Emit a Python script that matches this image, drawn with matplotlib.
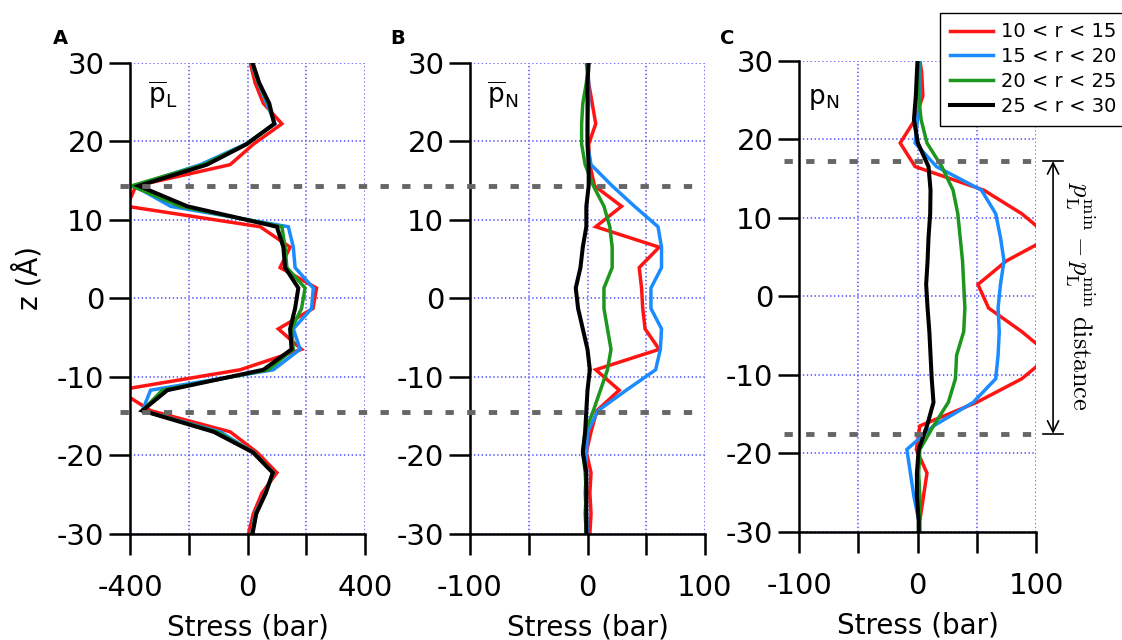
import numpy as np
import matplotlib.pyplot as plt
from matplotlib.lines import Line2D
from matplotlib.transforms import blended_transform_factory

plt.rcParams['font.family'] = 'DejaVu Sans'
plt.rcParams['axes.unicode_minus'] = False
plt.rcParams['mathtext.fontset'] = 'dejavusans'
plt.rcParams['lines.scale_dashes'] = False

# z positions (Angstrom) of the profiles in panels A and B
z_ab = [30.0, 27.4, 24.8, 22.2, 19.6, 17.0, 14.3, 11.7, 9.1, 6.5, 3.9, 1.3,
        -1.3, -3.9, -6.5, -9.1, -11.7, -14.3, -17.0, -19.6, -22.2, -24.8, -27.4, -30.0]
# z positions of the profiles in panel C
z_c = [30.0, 28.5, 25.5, 22.5, 19.5, 16.5, 13.5, 10.5, 7.5, 4.5, 1.5,
       -1.5, -4.5, -7.5, -10.5, -13.5, -16.5, -19.5, -22.5, -25.5, -28.5, -30.0]

labels = ["10 < r < 15", "15 < r < 20", "20 < r < 25", "25 < r < 30"]
colors = ["#ff1414", "#1a8cff", "#1c961c", "black"]

# panel A : mean lateral pressure
pL_10_15 = [9, 26, 54, 117, 20, -59, -380, -410, 43, 145, 111, 235,
            223, 105, 184, -25, -440, -330, -59, 32, 100, 49, 20, 3]
pL_15_20 = [14, 37, 65, 94, -8, -160, -385, -262, 139, 156, 162, 224,
            218, 156, 179, 88, -330, -358, -93, 20, 88, 60, 26, 14]
pL_20_25 = [15, 38, 70, 92, -5, -150, -395, -230, 117, 128, 134, 196,
            184, 150, 156, 71, -290, -358, -104, 20, 88, 62, 28, 15]
pL_25_30 = [17, 40, 74, 91, -3, -138, -370, -205, 100, 122, 128, 173,
            162, 145, 150, 54, -273, -358, -115, 18, 86, 62, 30, 17]

# panel B : mean normal pressure
pN_10_15 = [-1, 1, 4, 7, 1, 2, 6, 29, 7, 61, 44, 46,
            47, 49, 61, 7, 27, 8, 3, -1, 3, 2, 3, 2]
pN_15_20 = [0, 1, 1, 0, 0, 3, 21, 40, 60, 63, 63, 54,
            54, 63, 62, 58, 33, 9, 0, -1, -1, -2, -1, 0]
pN_20_25 = [1, -1, -4, -5, -5, -2, 5, 14, 19, 21, 21, 14,
            14, 17, 20, 17, 11, 5, -2, -4, -2, -1, -2, -1]
pN_25_30 = [1, 0, 0, 0, 0, 1, 1, -1, -1, -4, -6, -10,
            -8, -4, 0, 2, 0, -1, -2, -4, -1, -1, -1, -1]

# panel C : normal pressure
pNc_10_15 = [2, 3.5, 4.5, -2, -14.6, -2, 56, 88, 112, 75, 51,
             60, 88, 112, 88, 50, 2, -1, 8, 5, 2, 2]
pNc_15_20 = [1.4, 2, 2, 0, -2, 16, 54, 66, 70, 73, 70,
             68, 69, 68, 66, 47, 13.5, -9, -6, -3, 1, 2]
pNc_20_25 = [1, 1, 1, 3, 8, 20.5, 30, 34, 36, 38, 39,
             40, 39, 33, 32, 26, 13.5, 2, 1, 2, 1.4, 1.4]
pNc_25_30 = [0, -0.5, -1.4, -3, 0.3, 9.3, 11, 10.7, 9.3, 8.5, 7.3,
             8.5, 10, 11, 12, 13.5, 8, 1, -0.5, -0.5, 1, 1]

# positions of the pL minima (dashed lines)
zmin_ab = [14.3, -14.5]
zmin_c = [17.2, -17.5]


def style_panel(ax, xmax):
  ax.set_xlim(-xmax, xmax)
  ax.set_ylim(-30, 30)
  ax.set_xticks([-xmax, 0, xmax])
  ax.set_xticks([-xmax / 2, xmax / 2], minor=True)
  ax.set_yticks(np.arange(-30, 31, 10))
  for s in ["top", "right"]:
    ax.spines[s].set_visible(False)
  for s in ["left", "bottom"]:
    ax.spines[s].set_linewidth(1.8)
  ax.tick_params(which="both", direction="out", length=15, width=1.8, labelsize=21)
  ax.tick_params(axis="x", which="both", pad=14)
  ax.grid(True, which="both", color="#6666ff", linestyle=(0, (1, 1.8)), linewidth=1.3)
  ax.set_axisbelow(True)
  ax.set_xlabel("Stress (bar)", fontsize=20)
  ax.xaxis.set_label_coords(0.5, -0.168)


def draw_profiles(ax, z, series):
  lines = []
  for vals, c in zip(series, colors):
    lw = 2.9 if c == "black" else 2.5
    ln, = ax.plot(vals, z, color=c, lw=lw, solid_joinstyle="miter")
    lines.append(ln)
  return lines


fig = plt.figure(figsize=(11.22, 6.4), dpi=100)
axA = fig.add_axes([130 / 1122, 1 - 534 / 640, 235 / 1122, 471.5 / 640])
axB = fig.add_axes([470 / 1122, 1 - 534 / 640, 235 / 1122, 471.5 / 640])
axC = fig.add_axes([799 / 1122, 1 - 532 / 640, 237 / 1122, 471.5 / 640])

style_panel(axA, 400)
style_panel(axB, 100)
style_panel(axC, 100)

draw_profiles(axA, z_ab, [pL_10_15, pL_15_20, pL_20_25, pL_25_30])
draw_profiles(axB, z_ab, [pN_10_15, pN_15_20, pN_20_25, pN_25_30])
handles = draw_profiles(axC, z_c, [pNc_10_15, pNc_15_20, pNc_20_25, pNc_25_30])

axA.set_ylabel("z (Å)", fontsize=20)
axA.yaxis.set_label_coords(-0.37, 0.543)

axA.text(0.077, 0.965, r"$\overline{\mathrm{p}}_{\mathrm{L}}$", transform=axA.transAxes,
         fontsize=19, va="top", ha="left")
axB.text(0.072, 0.965, r"$\overline{\mathrm{p}}_{\mathrm{N}}$", transform=axB.transAxes,
         fontsize=19, va="top", ha="left")
axC.text(0.038, 0.945, r"$\mathrm{p}_{\mathrm{N}}$", transform=axC.transAxes,
         fontsize=19, va="top", ha="left")

for letter, xp in zip(["A", "B", "C"], [53, 390, 720]):
  fig.text(xp / 1122, 1 - 29 / 640, letter, fontsize=14, fontweight="bold", va="top", ha="left")

# dashed lines of the pL minima across A and B
trAB = blended_transform_factory(fig.transFigure, axA.transData)
for z in zmin_ab:
  fig.add_artist(Line2D([120 / 1122, 697 / 1122], [z, z], transform=trAB, color="#666666",
                        lw=3.5, linestyle=(0, (6, 9.6))))

for z in zmin_c:
  axC.plot([-113, 100], [z, z], color="#666666", lw=3.5, linestyle=(0, (6, 9.6)), clip_on=False)

# distance marker on the right of C
trC = blended_transform_factory(axC.transAxes, axC.transData)
for z in zmin_c:
  axC.plot([1.03, 1.114], [z, z], transform=trC, color="black", lw=1.2, clip_on=False)
axC.annotate("", xy=(1.072, zmin_c[0]), xytext=(1.072, zmin_c[1]), xycoords=trC, textcoords=trC,
             arrowprops=dict(arrowstyle="<->", color="black", lw=1.2, shrinkA=0, shrinkB=0,
                             mutation_scale=20))
axC.text(1.186, 0.0, r"$p_{\rm L}^{\rm min} - p_{\rm L}^{\rm min}\ {\rm distance}$", transform=trC,
         rotation=-90, ha="center", va="center", fontsize=19, math_fontfamily="cm", clip_on=False)

fig.legend(handles, labels, loc="upper left", bbox_to_anchor=(940 / 1122, 1 - 12.7 / 640),
           bbox_transform=fig.transFigure, fontsize=14, frameon=True, fancybox=False,
           edgecolor="black", framealpha=1, handlelength=2.2, handletextpad=0.45,
           labelspacing=0.3, borderpad=0.5, borderaxespad=0)

fig.savefig("out.png", dpi=100)
